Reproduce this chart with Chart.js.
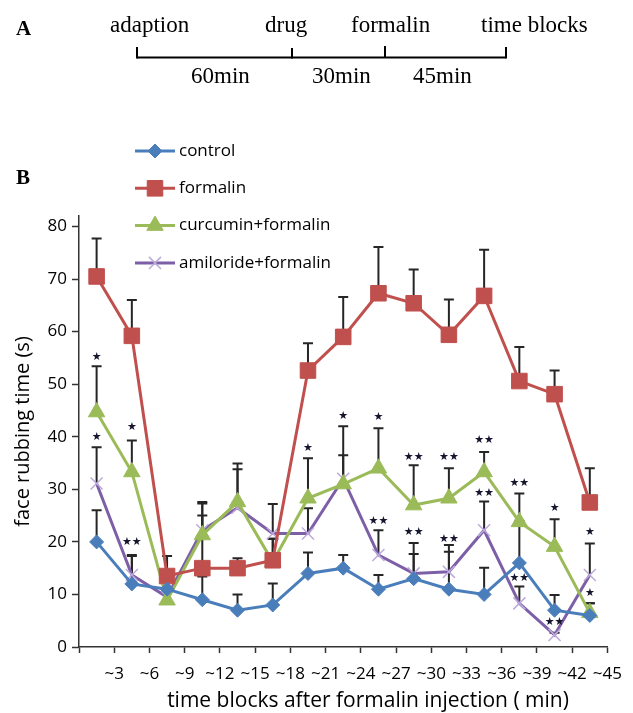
<!DOCTYPE html>
<html><head><meta charset="utf-8">
<script src="https://cdn.jsdelivr.net/npm/chart.js@4.4.1/dist/chart.umd.min.js"></script>
<style>
html,body{margin:0;padding:0;background:#fff;}
#wrap{position:relative;width:633px;height:713px;overflow:hidden;}
#c{position:absolute;left:0;top:0;}
#ov{position:absolute;left:0;top:0;pointer-events:none;}
.serif{font-family:'Liberation Serif','Times New Roman',serif;fill:#000;}
.sans{font-family:'Open Sans',sans-serif;fill:#000;}
</style></head><body>
<div id="wrap">
<canvas id="c" width="633" height="713"></canvas>
<svg id="ov" width="633" height="713" xmlns="http://www.w3.org/2000/svg">
  <text class="serif" x="16" y="35" font-size="21" font-weight="bold">A</text>
  <text class="serif" x="110" y="32" font-size="23">adaption</text>
  <text class="serif" x="265" y="32" font-size="23">drug</text>
  <text class="serif" x="351" y="32" font-size="23">formalin</text>
  <text class="serif" x="481" y="32" font-size="23">time blocks</text>
  <g stroke="#000" stroke-width="2" fill="none">
    <line x1="137" y1="57.5" x2="506" y2="57.5"/>
    <line x1="137" y1="47" x2="137" y2="58.5"/>
    <line x1="292" y1="48" x2="292" y2="58.5"/>
    <line x1="385" y1="46" x2="385" y2="57"/>
    <line x1="506" y1="47" x2="506" y2="58.5"/>
  </g>
  <text class="serif" x="191" y="83" font-size="23">60min</text>
  <text class="serif" x="312" y="83" font-size="23">30min</text>
  <text class="serif" x="413" y="83" font-size="23">45min</text>
  <text class="serif" x="16" y="184" font-size="21" font-weight="bold">B</text>
  <text class="sans" x="368" y="707" font-size="21" text-anchor="middle">time blocks after formalin injection ( min)</text>
</svg>
</div>
<script>
// ---- data ----
const categories = ['~3','~6','~9','~12','~15','~18','~21','~24','~27','~30','~33','~36','~39','~42','~45'];
const yTicks = [0,10,20,30,40,50,60,70,80];
const control      = [20, 12, 11, 9, 7, 8, 14, 15, 11, 13, 11, 10, 16, 7, 6];
const controlSD    = [6, 5.3, 2, 4.4, 3, 4.1, 4, 2.5, 2.7, 4.7, 7.1, 5.1, 8, 2.9, 2.3];
const formalin     = [70.5, 59.2, 13.5, 15, 15, 16.5, 52.6, 59, 67.3, 65.4, 59.4, 66.8, 50.6, 48.1, 27.5];
const formalinSD   = [7.2, 6.8, 3.8, 12.3, 1.9, 4.1, 5.2, 7.6, 8.8, 6.4, 6.7, 8.8, 6.5, 4.5, 6.5];
const curcumin     = [44.7, 33.3, 8.9, 21.3, 27.6, 16.2, 28.3, 31, 34, 27, 28.3, 33.3, 23.8, 19.1, 6.5];
const curcuminSD   = [8.7, 6, 4, 6.3, 7.3, 4.4, 7.6, 11, 7.6, 7.6, 5.7, 3.8, 5.4, 5.2, 1.8];
const amiloride    = [31.1, 13.7, 9.5, 22.2, 26.5, 21.6, 21.6, 32, 17.5, 14, 14.3, 22.2, 8.3, 2.3, 13.7];
const amilorideSD  = [6.9, 3.8, 3, 2.8, 7.3, 5.6, 4.8, 4.5, 4.7, 5.8, 5.1, 5.5, 3.2, 0.4, 6];
const seriesNames  = ['control','formalin','curcumin+formalin','amiloride+formalin'];
// significance marks: block number (1-based), value position, mark
const starBlocks = [1, 1, 2, 2, 7, 8, 9, 9, 10, 10, 11, 11, 12, 12, 13, 13, 14, 14, 15, 15];
const starValues = [55.2, 40, 41.8, 19.9, 37.8, 44, 43.8, 23.9, 36.2, 21.8, 36.2, 20.5, 39.3, 29.3, 31.2, 13.1, 26.5, 4.7, 21.8, 10.2];
const starMarks  = ['★','★','★','★★','★','★','★','★★','★★','★★','★★','★★','★★','★★','★★','★★','★','★★','★','★'];

const toPts = arr => arr.map((v,i)=>({x:i+0.5, y:v}));

const styles = [
  {color:'#4a7ebb', point:'rectRot', r:7, fill:'#4a7ebb', stroke:'#4a7ebb', bw:1},
  {color:'#c0504d', point:'rect', r:11, fill:'#c0504d', stroke:'#c0504d', bw:1},
  {color:'#9bbb59', point:'triangle', r:9.5, fill:'#9bbb59', stroke:'#9bbb59', bw:1},
  {color:'#7d5fa8', point:'crossRot', r:8.5, fill:'#bcaadb', stroke:'#bcaadb', bw:1.5}
];
const values = [control, formalin, curcumin, amiloride];
const sds = [controlSD, formalinSD, curcuminSD, amilorideSD];

Chart.defaults.font.family = "'Open Sans', sans-serif";
Chart.defaults.color = '#000';

function drawMarker(ctx, s, x, y){
  ctx.save();
  ctx.fillStyle = s.fill; ctx.strokeStyle = s.stroke; ctx.lineWidth = s.bw;
  ctx.beginPath();
  const r = s.r;
  if (s.point === 'rectRot') {
    ctx.moveTo(x, y-r); ctx.lineTo(x+r, y); ctx.lineTo(x, y+r); ctx.lineTo(x-r, y); ctx.closePath(); ctx.fill(); ctx.stroke();
  } else if (s.point === 'rect') {
    const h = r*Math.SQRT1_2; ctx.rect(x-h, y-h, 2*h, 2*h); ctx.fill(); ctx.stroke();
  } else if (s.point === 'triangle') {
    ctx.moveTo(x, y-r); ctx.lineTo(x+r*0.866, y+r/2); ctx.lineTo(x-r*0.866, y+r/2); ctx.closePath(); ctx.fill(); ctx.stroke();
  } else {
    const d = r*Math.SQRT1_2;
    ctx.moveTo(x-d, y-d); ctx.lineTo(x+d, y+d); ctx.moveTo(x+d, y-d); ctx.lineTo(x-d, y+d); ctx.stroke();
  }
  ctx.restore();
}

const errorBars = {
  id:'errorBars',
  beforeDatasetsDraw(chart){
    const ctx = chart.ctx, y = chart.scales.y;
    ctx.save();
    ctx.strokeStyle = '#262626'; ctx.lineWidth = 2;
    chart.data.datasets.forEach((ds,i)=>{
      const meta = chart.getDatasetMeta(i);
      meta.data.forEach((pt,j)=>{
        const top = y.getPixelForValue(ds.data[j].y + ds.sd[j]);
        ctx.beginPath();
        ctx.moveTo(pt.x, pt.y); ctx.lineTo(pt.x, top);
        ctx.moveTo(pt.x-5, top); ctx.lineTo(pt.x+5, top);
        ctx.stroke();
      });
    });
    ctx.restore();
  }
};

const stars = {
  id:'stars',
  afterDatasetsDraw(chart){
    const ctx = chart.ctx, x = chart.scales.x, y = chart.scales.y;
    ctx.save();
    ctx.font = "11px 'DejaVu Sans'";
    ctx.fillStyle = '#15152e';
    ctx.textAlign = 'center'; ctx.textBaseline = 'middle';
    starBlocks.forEach((b,k)=>{
      ctx.fillText(starMarks[k], x.getPixelForValue(b-0.5), y.getPixelForValue(starValues[k]));
    });
    ctx.restore();
  }
};

const customLegend = {
  id:'customLegend',
  afterDraw(chart){
    const ctx = chart.ctx;
    ctx.save();
    ctx.font = "17px 'Open Sans'";
    ctx.textBaseline = 'middle'; ctx.textAlign = 'left';
    chart.data.datasets.forEach((ds,i)=>{
      const yy = 151 + i*37.3;
      const s = styles[i];
      ctx.strokeStyle = s.color; ctx.lineWidth = 3;
      ctx.beginPath(); ctx.moveTo(135, yy); ctx.lineTo(175, yy); ctx.stroke();
      drawMarker(ctx, s, 155, yy);
      ctx.fillStyle = '#000';
      ctx.fillText(ds.label, 179, yy);
    });
    ctx.restore();
  }
};

const datasets = values.map((v,i)=>({
  label: seriesNames[i],
  data: toPts(v),
  sd: sds[i],
  borderColor: styles[i].color,
  backgroundColor: styles[i].fill,
  pointBorderColor: styles[i].stroke,
  pointBackgroundColor: styles[i].fill,
  pointStyle: styles[i].point,
  pointRadius: styles[i].r,
  pointHoverRadius: styles[i].r,
  pointBorderWidth: styles[i].bw,
  borderWidth: 3,
  tension: 0,
  fill: false
}));

new Chart(document.getElementById('c'), {
  type:'line',
  data:{datasets},
  options:{
    responsive:false,
    devicePixelRatio:1,
    animation:false,
    events:[],
    layout:{padding:{top:216, right:14, left:0, bottom:0}},
    plugins:{legend:{display:false}, tooltip:{enabled:false}},
    scales:{
      x:{
        type:'linear', min:0, max:categories.length,
        afterBuildTicks(scale){ scale.ticks = categories.map((c,i)=>({value:i})).concat([{value:categories.length}]); },
        afterFit(scale){ scale.height = 66; },
        ticks:{
          stepSize:1, autoSkip:false, maxRotation:0, padding:11,
          font:{size:17}, color:'#000',
          callback:(v)=> v>0 ? categories[v-1] : ''
        },
        grid:{drawOnChartArea:false, drawTicks:true, tickLength:6, color:'#333', tickWidth:1.5},
        border:{display:true, color:'#333', width:1.5}
      },
      y:{
        min:0, max:82,
        afterBuildTicks(scale){ scale.ticks = yTicks.map(v=>({value:v})); },
        afterFit(scale){ scale.width = 79; },
        ticks:{font:{size:17}, color:'#000', padding:5},
        grid:{drawOnChartArea:false, drawTicks:true, tickLength:7, color:'#333', tickWidth:1.5},
        border:{display:true, color:'#333', width:1.5},
        title:{display:true, text:'face rubbing time (s)', font:{size:20}, color:'#000', padding:{top:11, bottom:0}}
      }
    }
  },
  plugins:[errorBars, stars, customLegend]
});
</script>
</body></html>
